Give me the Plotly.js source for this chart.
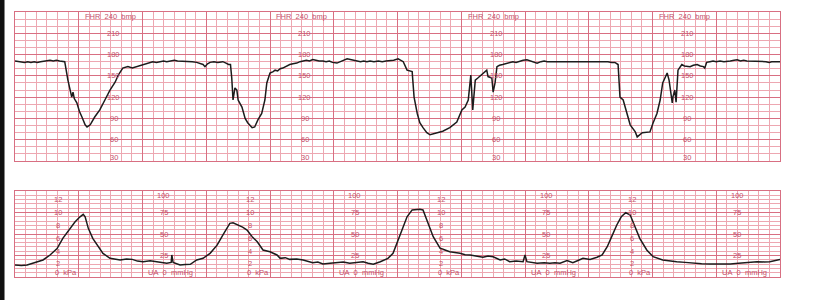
<!DOCTYPE html>
<html>
<head>
<meta charset="utf-8">
<script src="https://cdn.plot.ly/plotly-3.0.1.min.js"></script>
<style>
  html, body { margin: 0; padding: 0; background: #ffffff; }
  #chart { width: 832px; height: 300px; }
</style>
</head>
<body>
<div id="chart"></div>
<script>
// ---- Data (time in minutes) ----
const fhrTime = [0.00,0.05,0.10,0.15,0.20,0.25,0.30,0.35,0.40,0.45,0.50,0.55,0.60,0.65,0.70,0.74,0.78,0.83,0.89,0.91,0.93,0.97,1.01,1.05,1.10,1.13,1.18,1.25,1.33,1.41,1.49,1.57,1.62,1.69,1.77,1.84,1.91,1.96,2.01,2.06,2.11,2.16,2.22,2.27,2.33,2.38,2.44,2.50,2.55,2.60,2.67,2.72,2.78,2.85,2.90,2.95,2.98,3.02,3.06,3.12,3.18,3.22,3.26,3.31,3.35,3.38,3.40,3.42,3.45,3.48,3.50,3.56,3.61,3.65,3.72,3.76,3.81,3.87,3.92,3.95,4.00,4.05,4.08,4.12,4.16,4.20,4.24,4.28,4.31,4.36,4.42,4.47,4.52,4.57,4.62,4.67,4.72,4.77,4.83,4.88,4.93,4.98,5.05,5.10,5.15,5.21,5.26,5.31,5.36,5.42,5.47,5.52,5.57,5.63,5.70,5.76,5.82,5.88,5.94,6.01,6.06,6.09,6.15,6.23,6.24,6.26,6.31,6.35,6.40,6.46,6.51,6.56,6.62,6.71,6.82,6.93,7.01,7.06,7.11,7.14,7.15,7.18,7.20,7.22,7.26,7.34,7.40,7.42,7.48,7.50,7.53,7.56,7.60,7.65,7.70,7.75,7.81,7.86,7.92,7.97,8.03,8.08,8.13,8.19,8.25,8.30,8.35,8.39,8.45,8.50,8.55,8.60,8.66,8.72,8.78,8.84,8.91,8.97,9.03,9.10,9.18,9.24,9.30,9.36,9.41,9.46,9.49,9.54,9.60,9.65,9.73,9.76,9.84,9.96,10.01,10.07,10.12,10.16,10.23,10.26,10.31,10.32,10.35,10.37,10.40,10.43,10.46,10.50,10.55,10.59,10.64,10.70,10.75,10.80,10.82,10.85,10.90,10.95,11.00,11.06,11.12,11.17,11.22,11.28,11.33,11.38,11.43,11.48,11.53,11.58,11.63,11.68,11.73,11.78,11.83,11.87,11.93,12.00];
const fhrBpm  = [171,170,170,169,170,169,170,169,170,171,171,172,171,172,171,171,170,144,120,127,118,112,100,92,81,78,81,92,102,116,130,141,151,161,163,161,163,164,166,167,169,170,169,170,171,170,171,172,171,171,170,171,170,169,168,166,163,167,169,170,169,170,170,168,166,166,147,116,133,130,116,106,90,84,77,78,88,97,116,140,154,156,158,157,160,161,163,164,166,167,168,170,171,172,171,173,172,171,171,170,171,169,168,170,172,174,173,172,171,170,171,170,171,170,171,170,171,171,172,174,172,170,158,156,144,120,97,84,77,70,67,68,70,72,77,85,102,106,116,151,151,102,120,144,147,154,158,149,147,127,140,163,165,166,167,168,170,169,171,172,172.6,171,170,168,170,171,170,170,171,170,171,171,170,171,170,171,170,170,171,170,170,171,170,169,169,166,120,116,97,81,71,64,70,71,84,97,116,140,154,144,112,120,130,113,158,163,166,164,163,163,165,166,164,163,161,169,170,171,170,171,170,170,171,172,172.6,171,172,171,171,170,171,170,170,170,169,170,170,170];

const uaTime  = [0.00,0.10,0.19,0.28,0.36,0.44,0.55,0.66,0.75,0.86,0.94,1.02,1.07,1.10,1.15,1.22,1.29,1.38,1.49,1.57,1.65,1.75,1.84,1.92,2.01,2.12,2.23,2.31,2.38,2.45,2.46,2.48,2.59,2.67,2.75,2.85,2.95,3.06,3.17,3.26,3.37,3.42,3.50,3.57,3.64,3.72,3.80,3.89,4.00,4.11,4.16,4.24,4.31,4.42,4.52,4.60,4.67,4.75,4.83,4.94,5.05,5.15,5.25,5.35,5.46,5.54,5.62,5.73,5.85,5.93,6.01,6.09,6.15,6.23,6.35,6.40,6.48,6.56,6.67,6.82,6.98,7.06,7.14,7.24,7.34,7.42,7.50,7.61,7.68,7.76,7.86,7.97,8.00,8.03,8.19,8.30,8.39,8.47,8.55,8.66,8.75,8.84,8.91,9.02,9.13,9.21,9.29,9.36,9.44,9.51,9.58,9.65,9.73,9.80,9.91,10.01,10.16,10.27,10.38,10.51,10.64,10.77,10.90,11.06,11.22,11.35,11.48,11.64,11.75,11.84,12.00];
const uaMmHg  = [14,13.5,14,16,17.5,19.8,25.6,33,45,56.6,64,70,72.9,70,56.6,45,37,27.5,21.7,20.5,19.8,21,20.5,18.5,17.8,19,17.8,17,16,17,25.6,17,14,14.5,14.8,19.8,21.7,27.5,37,48.8,62.4,63,60.5,58,54.6,46.9,41,31.4,29.4,25.6,21.7,22.5,20.5,21,19.8,18,16.7,17.5,15.1,16,16.7,17.5,16,17,17.8,16,14.8,17.8,21.7,27.5,43,58.5,70,78,78.7,78,62.4,46.9,33.4,29.4,27.5,26,25.6,24,22.9,24.5,23.6,19.8,21,17.8,18.5,17.8,25.6,17.8,16,16.5,16,16.5,16,19,16.7,19.5,21.7,20.5,22.9,25.6,35.2,46.9,60.5,70,74.8,72,58.5,45,31.4,23.6,19.8,18.5,17.8,17,16,15.5,15.1,15,15.1,16,16.7,17.8,17.5,17.8,20.5];

// Label columns (minutes) and tick labels
const fhrLabelTimes  = [1.5, 4.5, 7.5, 10.5];
const fhrTickLabels  = [210, 180, 150, 120, 90, 60];
const fhrBottomLabel = 30;
const fhrTopLabel    = 'FHR\u00a0\u00a0240\u00a0\u00a0bmp';
const kpaLabelTimes  = [0.68, 3.68, 6.68, 9.68];
const kpaTickLabels  = [12, 10, 8, 6, 4, 2];
const kpaBottomLabel = '0\u00a0\u00a0kPa';
const mmLabelTimes   = [2.33, 5.33, 8.33, 11.33];
const mmTickLabels   = [75, 50, 25];
const mmTopLabel     = 100;
const mmBottomLabel  = 'UA\u00a0\u00a00\u00a0\u00a0mmHg';

// ---- Styles ----
const LABEL_COLOR = '#c4506b';
const MAJOR = '#d86f82';
const MINOR = '#eda7b1';
const font = {family: 'Liberation Sans, Arial, sans-serif', size: 7.5, color: LABEL_COLOR};

const annotations = [];
function addLabel(x, y, text, xref, yref, opts) {
  annotations.push(Object.assign({
    x: x, y: y, xref: xref, yref: yref, text: String(text), showarrow: false,
    font: font, xanchor: 'center', yanchor: 'middle', borderpad: 0
  }, opts || {}));
}
fhrLabelTimes.forEach(t => {
  addLabel(t, 240, fhrTopLabel, 'x', 'y', {yshift: -4});
  fhrTickLabels.forEach(v => addLabel(t, v, v, 'x', 'y', {xshift: 3}));
  addLabel(t, fhrBottomLabel, fhrBottomLabel, 'x', 'y', {xshift: 3, yshift: 4});
});
kpaLabelTimes.forEach(t => {
  kpaTickLabels.forEach(v => addLabel(t, v * 7.5, v, 'x2', 'y2', {yshift: (v === 2 ? 1 : 0)}));
  addLabel(t, 0, kpaBottomLabel, 'x2', 'y2', {xanchor: 'left', xshift: -4, yshift: 4});
});
mmLabelTimes.forEach(t => {
  addLabel(t, mmTopLabel, mmTopLabel, 'x2', 'y2', {yshift: -4});
  mmTickLabels.forEach(v => addLabel(t, v, v, 'x2', 'y2'));
  addLabel(t, 0, mmBottomLabel, 'x2', 'y2', {xanchor: 'center', xshift: 7, yshift: 4});
});

function xAxis(anchor) {
  return {
    range: [0, 12], anchor: anchor, showticklabels: false, ticks: '',
    tick0: 0, dtick: 1, showgrid: true, gridcolor: MAJOR, gridwidth: 1,
    minor: {dtick: 1/6, showgrid: true, gridcolor: MINOR, gridwidth: 1},
    zeroline: false, showline: true, mirror: true, linecolor: MAJOR, linewidth: 1
  };
}

const traces = [
  {x: fhrTime, y: fhrBpm, xaxis: 'x', yaxis: 'y', mode: 'lines',
   line: {color: '#1c1c1c', width: 1.5}, hoverinfo: 'skip'},
  {x: uaTime, y: uaMmHg, xaxis: 'x2', yaxis: 'y2', mode: 'lines',
   line: {color: '#1c1c1c', width: 1.5}, hoverinfo: 'skip'}
];

const layout = {
  width: 832, height: 300,
  margin: {l: 15, r: 52, t: 12, b: 23},
  paper_bgcolor: '#ffffff', plot_bgcolor: '#ffffff',
  showlegend: false,
  xaxis: xAxis('y'),
  xaxis2: xAxis('y2'),
  yaxis: {
    domain: [0.4377, 1], range: [30, 240], showticklabels: false, ticks: '',
    tick0: 0, dtick: 30, showgrid: true, gridcolor: MAJOR, gridwidth: 1,
    minor: {dtick: 10, showgrid: true, gridcolor: MINOR, gridwidth: 1},
    zeroline: false, showline: true, mirror: true, linecolor: MAJOR, linewidth: 1
  },
  yaxis2: {
    domain: [0, 0.3245], range: [0, 100], showticklabels: false, ticks: '',
    tick0: 0, dtick: 25, showgrid: true, gridcolor: MAJOR, gridwidth: 1,
    minor: {dtick: 5, showgrid: true, gridcolor: MINOR, gridwidth: 1},
    zeroline: false, showline: true, mirror: true, linecolor: MAJOR, linewidth: 1
  },
  annotations: annotations,
  shapes: [
    {type: 'rect', xref: 'paper', yref: 'paper', x0: -0.0196, x1: -0.0137, y0: -0.09, y1: 1.05,
     fillcolor: '#111111', line: {width: 0}, layer: 'above'}
  ]
};

Plotly.newPlot('chart', traces, layout, {staticPlot: true, displayModeBar: false});
</script>
</body>
</html>
